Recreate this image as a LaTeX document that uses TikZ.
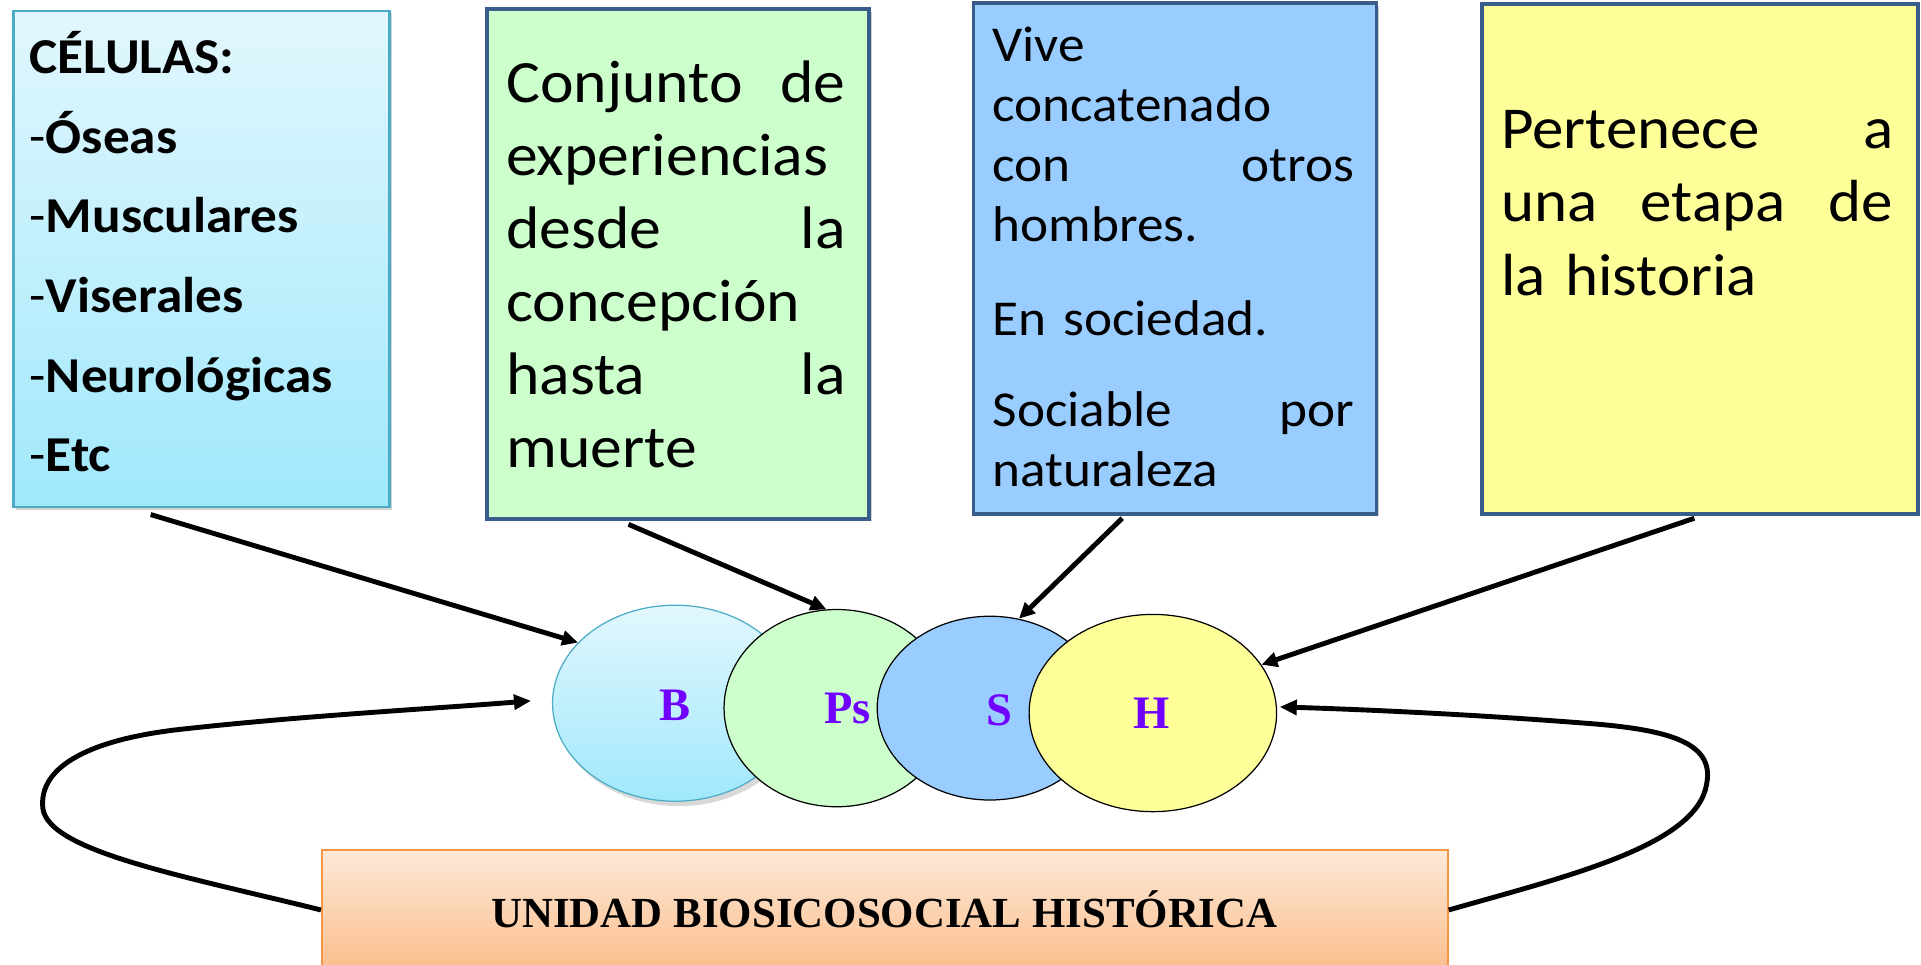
\documentclass[tikz,border=0pt]{standalone}
\usepackage{fontspec}
\setmainfont{Carlito}
\newfontfamily\widefont[FakeStretch=1.06]{Carlito}
\newfontfamily\serifbold{Liberation Serif}
\usetikzlibrary{arrows.meta,shapes.geometric,shadows}
\definecolor{cyanTop}{RGB}{226,247,253}
\definecolor{cyanBot}{RGB}{160,232,252}
\definecolor{cyanLine}{RGB}{75,172,198}
\definecolor{greenFill}{RGB}{204,255,204}
\definecolor{blueFill}{RGB}{153,204,255}
\definecolor{yellowFill}{RGB}{255,255,153}
\definecolor{navyLine}{RGB}{56,93,138}
\definecolor{orangeTop}{RGB}{253,233,217}
\definecolor{orangeBot}{RGB}{251,190,140}
\definecolor{orangeLine}{RGB}{247,150,70}
\definecolor{labelPurple}{RGB}{112,0,255}
\begin{document}
\begin{tikzpicture}[x=1pt,y=-1pt,
  panel/.style={rectangle, anchor=north west, inner sep=0pt},
  navypanel/.style={panel, draw=navyLine, line width=3pt,
     drop shadow={opacity=0.35, shadow xshift=2pt, shadow yshift=-2pt}},
  paneltext/.style={anchor=base west, inner sep=0pt, align=left},
  circ/.style={ellipse, draw=black, line width=1pt, inner sep=0pt},
  circlabel/.style={font=\serifbold\bfseries\fontsize{38}{42}\selectfont, text=labelPurple},
  feed/.style={line width=4pt, -{Triangle[length=13pt,width=12pt]}},
  loopline/.style={line width=4pt, -{Triangle[length=14pt,width=12pt]}}
]
\useasboundingbox (0,0) rectangle (1568,787);

% top panels
\node[panel, draw=cyanLine, line width=2pt, top color=cyanTop, bottom color=cyanBot,
  minimum width=307pt, minimum height=405pt,
  drop shadow={opacity=0.35, shadow xshift=2pt, shadow yshift=-2pt}] (b1) at (10,8) {};
\node[navypanel, fill=greenFill, minimum width=312pt, minimum height=416pt] (b2) at (396,6) {};
\node[navypanel, fill=blueFill, minimum width=329pt, minimum height=417pt] (b3) at (793,1) {};
\node[navypanel, fill=yellowFill, minimum width=356pt, minimum height=416pt] (b4) at (1208,2) {};

% panel texts
\node[paneltext, text width=290pt, font=\widefont\fontsize{41}{65}\selectfont] (t1) at (24,60)
  {\textbf{CÉLULAS:}\\-\textbf{Óseas}\\-\textbf{Musculares}\\-\textbf{Viserales}\\-\textbf{Neurológicas}\\-\textbf{Etc}};
\node[paneltext, text width=277pt, font=\widefont\fontsize{49}{59.5}\selectfont] (t2) at (413,84)
  {Conjunto\hfill de\\experiencias\\desde\hfill la\\concepción\\hasta\hfill la\\muerte};
\node[paneltext, text width=295pt, font=\widefont\fontsize{41}{49}\selectfont] (t3) at (810,50)
  {Vive\\concatenado\\con\hfill otros\\hombres.\\[28pt]En sociedad.\\[25pt]Sociable\hfill por\\naturaleza};
\node[paneltext, text width=320pt, font=\widefont\fontsize{48.5}{60}\selectfont] (t4) at (1225,121)
  {Pertenece\hfill a\\una\hfill etapa\hfill de\\la historia};

% ellipses
\node[circ, draw=cyanLine, top color=cyanTop, bottom color=cyanBot,
  minimum width=200pt, minimum height=160pt,
  drop shadow={opacity=0.3, shadow xshift=3pt, shadow yshift=-4pt}] (eB) at (551,574) {};
\node[circ, fill=greenFill, minimum width=184pt, minimum height=161pt] (ePs) at (683,578) {};
\node[circ, fill=blueFill, minimum width=184pt, minimum height=150pt] (eS) at (808,578) {};
\node[circ, fill=yellowFill, minimum width=202pt, minimum height=161pt] (eH) at (941,582) {};

\node[circlabel] (lB) at (551,576) {B};
\node[circlabel] (lPs) at (692,578) {Ps};
\node[circlabel] (lS) at (816,580) {S};
\node[circlabel] (lH) at (940,582) {H};

% bottom box
\node[panel, draw=orangeLine, line width=1.5pt, top color=orangeTop, bottom color=orangeBot,
  minimum width=919pt, minimum height=98pt] (bb) at (262,693) {};
\node[font=\serifbold\bfseries\fontsize{35}{38}\selectfont, inner sep=0pt] (tb) at (722,742)
  {UNIDAD BIOSICOSOCIAL HISTÓRICA};

% connector start points
\coordinate (s1) at ([xshift=113pt,yshift=-5pt]b1.south west);
\coordinate (s2) at ([xshift=117pt,yshift=-3pt]b2.south west);
\coordinate (s3) at ([xshift=123pt,yshift=-2pt]b3.south west);
\coordinate (s4) at ([xshift=175pt,yshift=-2pt]b4.south west);

\draw[feed] (s1) -- (eB.148);
\draw[feed] (s2) -- (ePs.96);
\draw[feed] (s3) -- (eS.72);
\draw[feed] (s4) -- (eH.24);

% loops
\coordinate (lEndL) at ([xshift=-17pt,yshift=2pt]eB.west);
\coordinate (lEndR) at ([xshift=2pt,yshift=5pt]eH.east);
\draw[loopline] (bb.west) .. controls (150,715) and (40,695) .. (35,660)
   .. controls (31,625) and (75,603) .. (150,595) .. controls (250,584) and (360,578) .. (lEndL);
\draw[loopline] (bb.east) .. controls (1280,715) and (1385,690) .. (1393,640)
   .. controls (1400,605) and (1360,595) .. (1290,590) .. controls (1200,583) and (1110,579) .. (lEndR);
\end{tikzpicture}
\end{document}
